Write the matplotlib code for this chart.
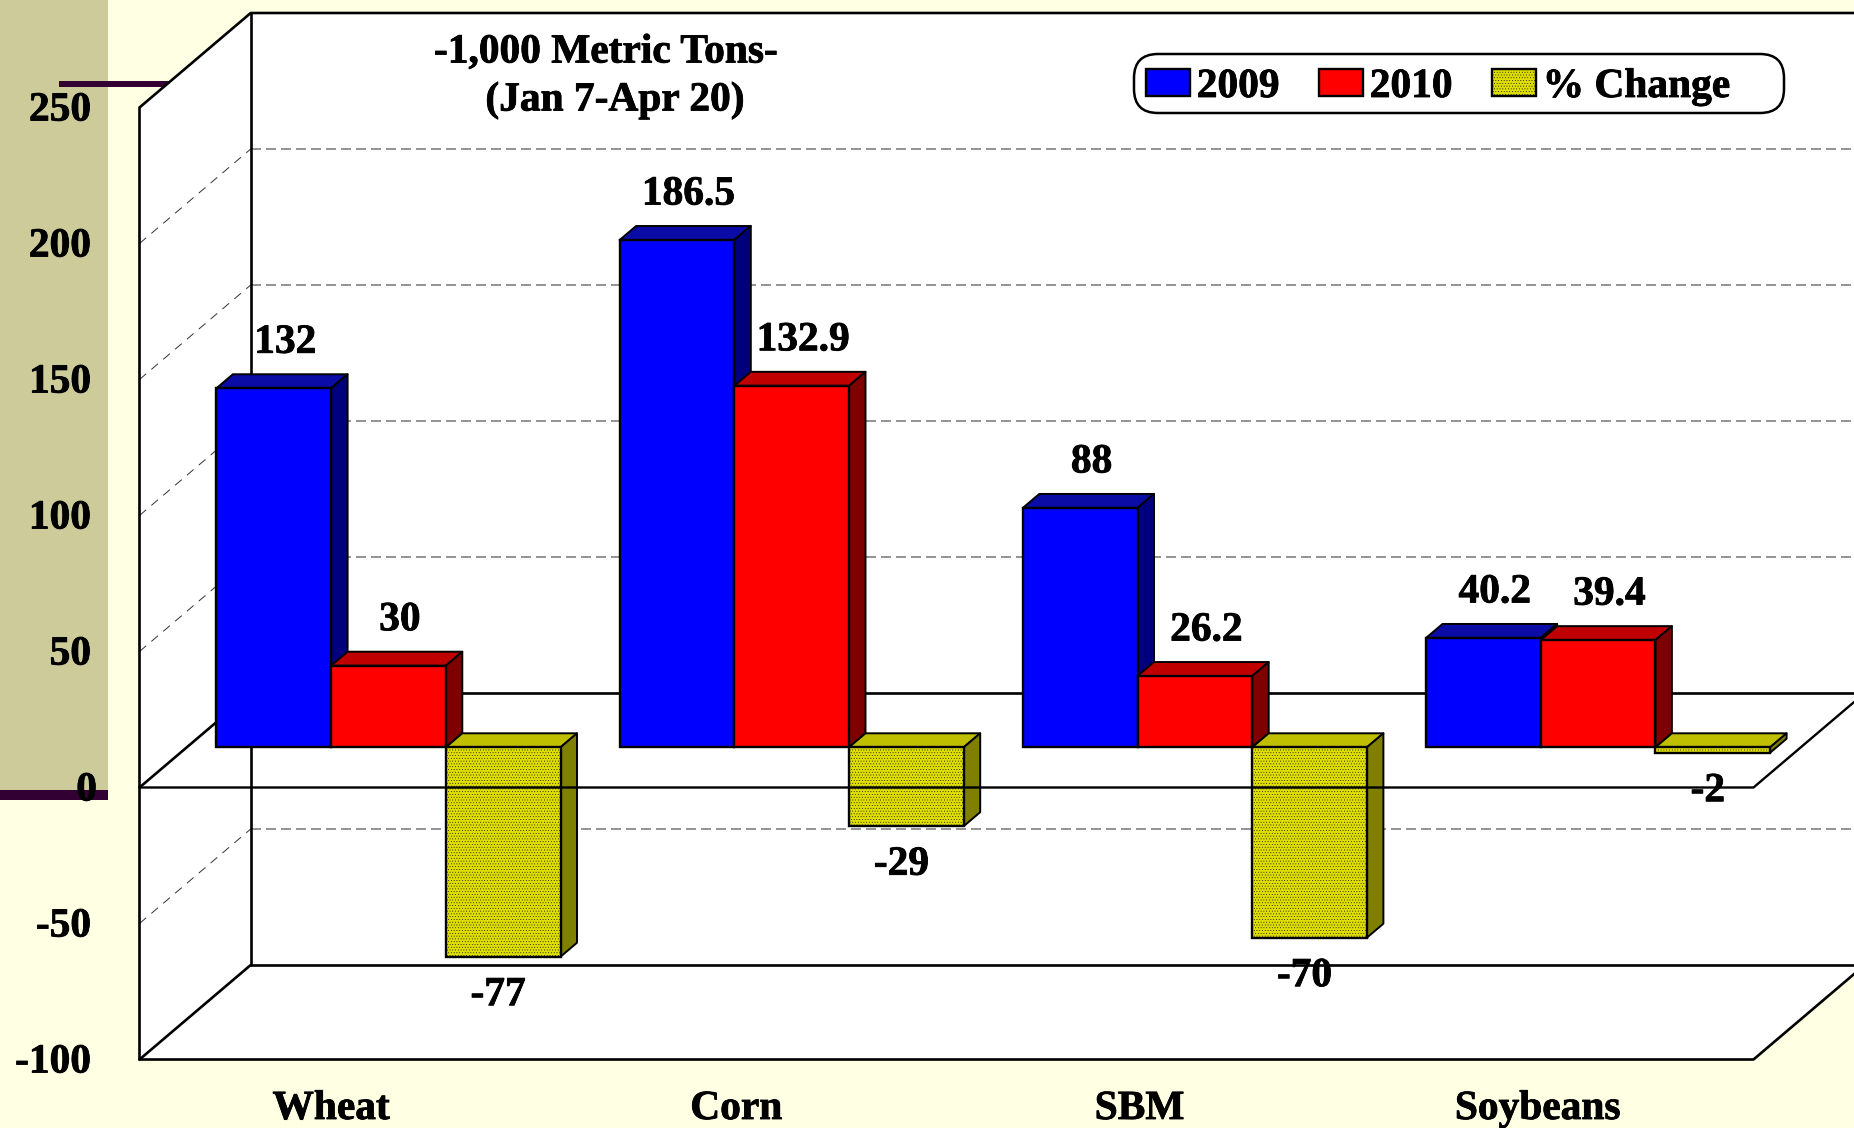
import matplotlib
matplotlib.use("Agg")
import matplotlib.pyplot as plt
import matplotlib.patheffects as pe
from matplotlib.patches import Polygon, Patch, Rectangle, FancyBboxPatch
from matplotlib.transforms import IdentityTransform

categories = ["Wheat", "Corn", "SBM", "Soybeans"]
values_2009 = [132, 186.5, 88, 40.2]
values_2010 = [30, 132.9, 26.2, 39.4]
values_change = [-77, -29, -70, -2]
series_names = ["2009", "2010", "% Change"]
y_ticks = [250, 200, 150, 100, 50, 0, -50, -100]
grid_values = [200, 150, 100, 50, -50]
category_shift_px = [0, 2, 2, -3]

W, H = 1854, 1128
PX_PER_UNIT = 2.72
BASE_PY = 747.3
GROUP_PX = 403.2
FIRST_CENTER_PX = 388.45
BAR_W = 114.7 / GROUP_PX
FS = 29.8

plt.rcParams["font.family"] = ["Liberation Serif", "DejaVu Serif"]
plt.rcParams["font.weight"] = "bold"
plt.rcParams["hatch.linewidth"] = 0.25

fig = plt.figure(figsize=(W / 100, H / 100), dpi=100, facecolor="#FFFFE3")
ax = fig.add_axes([0, 0, 1, 1])
ax.set_xlim(-FIRST_CENTER_PX / GROUP_PX, (W - FIRST_CENTER_PX) / GROUP_PX)
ax.set_ylim((BASE_PY - H) / PX_PER_UNIT, BASE_PY / PX_PER_UNIT)
ax.axis("off")


def cx(px):
    return (px - FIRST_CENTER_PX) / GROUP_PX


def cy(py):
    return (BASE_PY - py) / PX_PER_UNIT


# frame geometry
FRONT_X, BACK_X, FRONT_R = cx(139.5), cx(250.7), cx(1753.5)
DX = BACK_X - FRONT_X
FRONT_DY, BACK_DY = cy(787.5), cy(693)
RIGHT = cx(W + 5)
BLACK = "black"

# slide decoration
ax.add_patch(Rectangle((cx(0), cy(792)), cx(107.6) - cx(0), cy(0) - cy(792),
                       fc="#CCCB99", ec="none", zorder=0))
ax.add_patch(Rectangle((cx(0), cy(800)), cx(107.6) - cx(0), cy(790) - cy(800),
                       fc="#330033", ec="none", zorder=0.5))
ax.add_patch(Rectangle((cx(59), cy(87)), cx(175) - cx(59), cy(81.5) - cy(87),
                       fc="#330033", ec="none", zorder=0.5))


def fy(v):
    return v + FRONT_DY


def by(v):
    return v + BACK_DY


# white walls
slope = (by(0) - fy(0)) / DX
ax.add_patch(Polygon([(FRONT_X, fy(-100)), (FRONT_X, fy(250)), (BACK_X, by(250)),
                      (RIGHT, by(250)), (RIGHT, by(-100)),
                      (RIGHT, fy(-100) + (RIGHT - FRONT_R) * slope),
                      (FRONT_R, fy(-100))], fc="white", ec="none", zorder=1))

# gridlines
for g in grid_values:
    ax.plot([BACK_X, RIGHT], [by(g), by(g)], color="#808080", lw=1.2,
            ls=(0, (6, 3)), zorder=2)
    ax.plot([FRONT_X, BACK_X], [fy(g), by(g)], color="#333333", lw=0.7,
            ls=(0, (9, 7)), zorder=2)

# frame lines behind the bars
frame_kw = dict(color=BLACK, lw=1.9, zorder=3, solid_capstyle="round")
ax.plot([FRONT_X, FRONT_X, BACK_X, RIGHT], [fy(-100), fy(250), by(250), by(250)], **frame_kw)
ax.plot([BACK_X, BACK_X], [by(250), by(-100)], **frame_kw)
ax.plot([BACK_X, RIGHT], [by(0), by(0)], **frame_kw)
ax.plot([BACK_X, RIGHT], [by(-100), by(-100)], **frame_kw)
ax.plot([FRONT_X, BACK_X], [fy(-100), by(-100)], **frame_kw)
ax.plot([FRONT_X, BACK_X], [fy(0), by(0)], **frame_kw)
ax.plot([FRONT_X, FRONT_R, RIGHT], [fy(-100), fy(-100), fy(-100) + (RIGHT - FRONT_R) * slope], **frame_kw)

# bars
DEPTH_X = 16.5 / GROUP_PX
DEPTH_Y = 14 / PX_PER_UNIT
series = [
    (values_2009, "#0000FF", "#0B0BA5", "#00007F", None),
    (values_2010, "#FF0000", "#C00000", "#7F0000", None),
    (values_change, "#DEDE00", "#BFBF00", "#808000", "......"),
]
z = 4
for i in range(len(categories)):
    for s, (vals, face, top_c, side_c, hatch) in enumerate(series):
        v = vals[i]
        x = i + (s - 1) * BAR_W
        xl, xr = x - BAR_W / 2, x + BAR_W / 2
        hi, lo = max(v, 0), min(v, 0)
        ax.add_patch(Polygon([(xl, hi), (xl + DEPTH_X, hi + DEPTH_Y),
                              (xr + DEPTH_X, hi + DEPTH_Y), (xr, hi)],
                             fc=top_c, ec=BLACK, lw=1.4, joinstyle="round", zorder=z))
        ax.add_patch(Polygon([(xr, hi), (xr + DEPTH_X, hi + DEPTH_Y),
                              (xr + DEPTH_X, lo + DEPTH_Y), (xr, lo)],
                             fc=side_c, ec=BLACK, lw=1.4, joinstyle="round", zorder=z))
        ax.bar(x, v, width=BAR_W, color=face, edgecolor=BLACK, linewidth=1.7,
               hatch=hatch, zorder=z + 0.5)
        if v >= 0:
            off = (11.5 * 0.72, 45 * 0.72)
        else:
            off = (-5 * 0.72, -39 * 0.72)
        ax.annotate(f"{v:g}", (x, v), xytext=off, textcoords="offset points",
                    ha="center", va="center", fontsize=FS, fontweight="bold",
                    color=BLACK, zorder=30)
        z += 1

# zero-plane front edge passes over the bars
ax.plot([FRONT_X, FRONT_R, RIGHT], [fy(0), fy(0), fy(0) + (RIGHT - FRONT_R) * slope],
        color=BLACK, lw=1.7, zorder=25)

# value-axis labels sit on the front wall
for t in y_ticks:
    ax.text(cx(97 if t == 0 else 91), fy(t) - 3.5 / PX_PER_UNIT, str(t), ha="right",
            va="center", fontsize=FS, fontweight="bold", color=BLACK, zorder=30)

# category labels
for i, name in enumerate(categories):
    ax.text(i - BAR_W / 2 + category_shift_px[i] / GROUP_PX, cy(1109.5), name,
            ha="center", va="center", fontsize=FS, fontweight="bold",
            color=BLACK, zorder=30)

# titles
ax.text(cx(606), cy(53), "-1,000 Metric Tons-", ha="center", va="center",
        fontsize=FS, fontweight="bold", zorder=30)
ax.text(cx(615), cy(101), "(Jan 7-Apr 20)", ha="center", va="center",
        fontsize=FS, fontweight="bold", zorder=30)

# legend box, then its entries
ax.add_patch(FancyBboxPatch((1134 + 24, H - 113 + 24), 650 - 48, 59 - 48,
                            boxstyle="round,pad=24,rounding_size=24",
                            transform=IdentityTransform(), fc="white", ec=BLACK,
                            lw=1.8, zorder=39))
handles = [Patch(facecolor=f, edgecolor=BLACK, hatch=h, linewidth=1.7)
           for (_, f, _, _, h) in series]
leg = ax.legend(handles, series_names, ncol=3, loc="center",
                bbox_to_anchor=(1438 / W, 1 - 87.5 / H),
                fontsize=FS, frameon=False,
                handlelength=1.06, handleheight=0.6, handletextpad=0.17,
                columnspacing=0.95, borderpad=0, borderaxespad=0)
leg.set_zorder(40)

# the reference's type is heavier than plain bold
stroke = [pe.withStroke(linewidth=0.6, foreground=BLACK)]
for t in list(ax.texts) + list(leg.get_texts()):
    t.set_path_effects(stroke)

fig.savefig("out.png", dpi=100, facecolor=fig.get_facecolor())
